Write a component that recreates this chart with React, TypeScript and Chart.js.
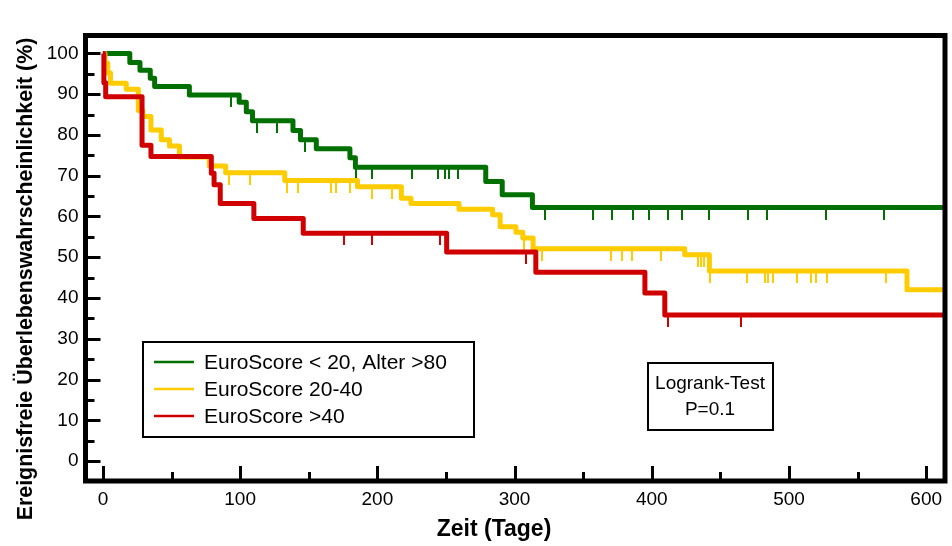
import React, { useEffect, useRef } from "react";
import { Chart, registerables } from "chart.js";

Chart.register(...registerables);

// ---------- data ----------
const seriesLabels = ["EuroScore < 20, Alter >80", "EuroScore 20-40", "EuroScore >40"];
const seriesColors = ["#007000", "#ffcc00", "#d00000"];

// Kaplan-Meier steps: time (days) and survival (%) after the step
const greenTimes = [0, 19.6, 27, 34.5, 37.7, 63, 99.3, 104.5, 109, 138.5, 144, 155.5, 180, 184, 279, 291, 313, 613.7];
const greenValues = [100, 97.8, 95.9, 93.9, 91.9, 89.8, 88.0, 85.7, 83.5, 81.1, 78.8, 76.6, 74.4, 72.1, 68.6, 65.3, 62.2, 62.2];
const greenCensored = [93, 112.5, 127, 147.6, 184.5, 196, 225, 244, 249.5, 252.5, 258.5, 322, 357, 371, 386, 398, 412, 422, 442, 470, 484, 527, 569];

const yellowTimes = [0, 1.5, 3.5, 5.5, 17, 25.8, 29, 35, 42.5, 48.5, 55.8, 77.5, 89.5, 132.5, 185.5, 217.5, 224.5, 259.5, 284, 289.5, 301, 306, 313.5, 424, 442, 586, 613.7];
const yellowValues = [100, 97.6, 95.2, 92.7, 91.2, 86, 84.5, 81.2, 78.8, 77.3, 74.6, 72.4, 70.7, 68.8, 67.3, 64.5, 63.2, 61.8, 60.4, 57.5, 56.1, 54.7, 52.1, 50.6, 46.6, 42, 42];
const yellowCensored = [92, 107, 134, 142.5, 166, 169.5, 180, 196, 210.5, 217, 307, 320, 370, 378.5, 385.5, 407, 433.8, 435.7, 437.9, 442.2, 469.3, 482.6, 484.5, 488.6, 505.8, 516.4, 519.6, 527.4, 571];

const redTimes = [0, 0.7, 2, 28.5, 35, 79, 81, 85.5, 110, 146, 250.5, 315.5, 395, 409.5, 613.7];
const redValues = [100, 92.8, 89.4, 77.5, 74.7, 70.6, 67.8, 63.2, 59.5, 55.9, 51.3, 46.3, 41.2, 35.8, 35.8];
const redCensored = [176, 196, 246, 308, 412, 464.7];

const xTickValues = [0, 100, 200, 300, 400, 500, 600];
const xMinorTickValues = [50, 150, 250, 350, 450, 550];
const yTickValues = [0, 10, 20, 30, 40, 50, 60, 70, 80, 90, 100];
const yMinorTickValues = [5, 15, 25, 35, 45, 55, 65, 75, 85, 95];

const xTitle = "Zeit (Tage)";
const yTitle = "Ereignisfreie Überlebenswahrscheinlichkeit (%)";
const testLines = ["Logrank-Test", "P=0.1"];

const FONT = "'Liberation Sans', Arial, sans-serif";

function levelAt(times: number[], values: number[], t: number) {
  let v = values[0];
  for (let i = 0; i < times.length; i++) {
    if (times[i] <= t) v = values[i];
  }
  return v;
}

function censorMark(color: string) {
  const c = document.createElement("canvas");
  c.width = 2;
  c.height = 24;
  const g = c.getContext("2d")!;
  g.fillStyle = color;
  g.fillRect(0, 12, 2, 12);
  return c;
}

const framePlugin = {
  id: "framePlugin",
  afterDraw(chart: any) {
    const { ctx, chartArea: a, scales } = chart;
    const x = scales.x;
    const y = scales.y;
    ctx.save();
    ctx.strokeStyle = "#000";
    // ticks (inward)
    ctx.lineWidth = 3;
    ctx.lineCap = "butt";
    const drawY = (v: number, len: number) => {
      const py = Math.round(y.getPixelForValue(v)) + 0.5;
      ctx.beginPath();
      ctx.moveTo(a.left, py);
      ctx.lineTo(a.left + len, py);
      ctx.stroke();
    };
    const drawX = (v: number, len: number) => {
      const px = Math.round(x.getPixelForValue(v)) + 0.5;
      ctx.beginPath();
      ctx.moveTo(px, a.bottom);
      ctx.lineTo(px, a.bottom - len);
      ctx.stroke();
    };
    yTickValues.forEach((v) => drawY(v, 15));
    yMinorTickValues.forEach((v) => drawY(v, 9));
    xTickValues.forEach((v) => drawX(v, 15));
    xMinorTickValues.forEach((v) => drawX(v, 9));
    // frame
    ctx.lineWidth = 5;
    ctx.strokeRect(a.left, a.top, a.right - a.left, a.bottom - a.top);

    // legend box
    const lx = 143, ly = 342, lw = 331, lh = 95;
    ctx.fillStyle = "#fff";
    ctx.fillRect(lx, ly, lw, lh);
    ctx.lineWidth = 2;
    ctx.strokeRect(lx, ly, lw, lh);
    ctx.font = `21px ${FONT}`;
    ctx.textBaseline = "middle";
    ctx.textAlign = "left";
    const ds = chart.data.datasets.filter((d: any) => d.isSeries);
    ds.forEach((d: any, i: number) => {
      const ry = 362 + i * 27;
      ctx.strokeStyle = d.borderColor;
      ctx.lineWidth = 2.5;
      ctx.beginPath();
      ctx.moveTo(154, ry);
      ctx.lineTo(194, ry);
      ctx.stroke();
      ctx.fillStyle = "#000";
      ctx.fillText(d.label, 204, ry + 1);
    });

    // logrank box
    ctx.strokeStyle = "#000";
    ctx.lineWidth = 2;
    ctx.strokeRect(648, 363, 125, 67);
    ctx.fillStyle = "#000";
    ctx.font = `19px ${FONT}`;
    ctx.textAlign = "center";
    ctx.fillText(testLines[0], 710, 384);
    ctx.fillText(testLines[1], 710, 410);

    // axis titles
    ctx.font = `bold 23px ${FONT}`;
    ctx.textAlign = "center";
    ctx.fillText(xTitle, 494, 530);
    ctx.save();
    ctx.translate(26, 279);
    ctx.rotate(-Math.PI / 2);
    ctx.font = `bold 21.4px ${FONT}`;
    ctx.fillText(yTitle, 0, 0);
    ctx.restore();
    ctx.restore();
  },
};

function kmData(times: number[], values: number[]) {
  return times.map((t, i) => ({ x: t, y: values[i] }));
}

function censorData(times: number[], values: number[], cens: number[]) {
  return cens.map((t) => ({ x: t, y: levelAt(times, values, t) }));
}

export default function App() {
  const ref = useRef<HTMLCanvasElement>(null);
  useEffect(() => {
    document.body.style.margin = "0";
    document.body.style.overflow = "hidden";
    const series = [
      { t: greenTimes, v: greenValues, c: greenCensored, order: 3 },
      { t: yellowTimes, v: yellowValues, c: yellowCensored, order: 2 },
      { t: redTimes, v: redValues, c: redCensored, order: 1 },
    ];
    const datasets: any[] = [];
    series.forEach((s, i) => {
      datasets.push({
        type: "line",
        label: seriesLabels[i],
        isSeries: true,
        data: kmData(s.t, s.v),
        borderColor: seriesColors[i],
        backgroundColor: seriesColors[i],
        borderWidth: 5,
        stepped: true,
        pointRadius: 0,
        borderJoinStyle: "round",
        borderCapStyle: "butt",
        fill: false,
        order: s.order,
      });
      datasets.push({
        type: "scatter",
        label: seriesLabels[i] + " (zensiert)",
        isSeries: false,
        data: censorData(s.t, s.v, s.c),
        pointStyle: censorMark(seriesColors[i]),
        pointRadius: 6,
        borderColor: seriesColors[i],
        backgroundColor: seriesColors[i],
        order: s.order + 3,
      });
    });

    const chart = new Chart(ref.current!, {
      type: "line",
      data: { datasets },
      options: {
        animation: false,
        responsive: true,
        maintainAspectRatio: false,
        layout: { padding: { top: 35.5, right: 2, left: 0, bottom: 0 } },
        plugins: { legend: { display: false }, tooltip: { enabled: false } },
        scales: {
          x: {
            type: "linear",
            min: -12.7,
            max: 613.7,
            grid: { display: false, drawTicks: false },
            border: { display: false },
            afterBuildTicks: (s: any) => {
              s.ticks = xTickValues.map((v) => ({ value: v }));
            },
            afterFit: (s: any) => {
              s.height = 65;
            },
            ticks: {
              color: "#000",
              padding: 7,
              maxRotation: 0,
              autoSkip: false,
              font: { family: FONT, size: 19 },
            },
          },
          y: {
            type: "linear",
            min: -4.9,
            max: 104.4,
            grid: { display: false, drawTicks: false },
            border: { display: false },
            afterBuildTicks: (s: any) => {
              s.ticks = yTickValues.map((v) => ({ value: v }));
            },
            afterFit: (s: any) => {
              s.width = 85.5;
            },
            ticks: {
              color: "#000",
              padding: 7,
              autoSkip: false,
              font: { family: FONT, size: 19 },
            },
          },
        },
      },
      plugins: [framePlugin],
    });
    return () => chart.destroy();
  }, []);
  return (
    <div style={{ width: 952, height: 546, position: "relative", background: "#fff" }}>
      <canvas ref={ref} />
    </div>
  );
}
